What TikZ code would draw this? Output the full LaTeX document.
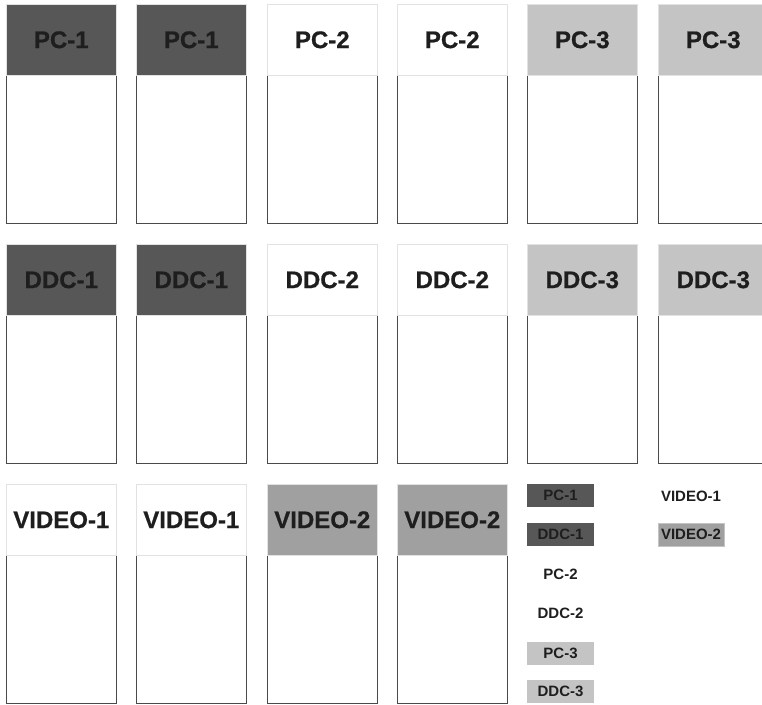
\documentclass[tikz,border=0pt]{standalone}
\usepackage{fontspec}
\setmainfont{Liberation Sans}
\newfontfamily\heavy{Liberation Sans}[UprightFont=*-Bold,FakeBold=0.7]
\definecolor{cdark}{HTML}{575757}
\definecolor{clight}{HTML}{C4C4C4}
\definecolor{cmid}{HTML}{A0A0A0}
\definecolor{ctext}{HTML}{1E1E1E}
\definecolor{cedge}{HTML}{4A4A4A}
\definecolor{cfaint}{HTML}{E2E2E2}
\tikzset{
  x=1pt,y=-1pt,
  hdr/.style={draw=cfaint,line width=0.6pt,minimum width=110pt,minimum height=71pt,inner sep=0pt,anchor=north west,
    font=\fontsize{24}{24}\selectfont\heavy,text=ctext},
  body/.style={draw=cedge,line width=0.9pt},
  leg/.style={minimum width=67pt,minimum height=23pt,inner sep=0pt,font=\fontsize{15}{15}\selectfont\bfseries,text=ctext},
}
\begin{document}
\begin{tikzpicture}
\useasboundingbox (0,0) rectangle (762,704);
\foreach \r/\ty/\la/\lb/\lc/\ca/\cb/\cc in {
  1/4/PC-1/PC-2/PC-3/cdark/white/clight,
  2/244/DDC-1/DDC-2/DDC-3/cdark/white/clight}{
  \foreach \c/\lx/\lab/\col in {1/6/\la/\ca,2/136/\la/\ca,3/267/\lb/\cb,4/397/\lb/\cb,5/527/\lc/\cc,6/658/\lc/\cc}{
    \draw[body] (\lx,\ty+71) -- (\lx,\ty+219) -- (\lx+110,\ty+219) -- (\lx+110,\ty+71);
    \node[hdr,fill=\col] (h\r\c) at (\lx,\ty) {\lab};
  }
}
\foreach \c/\lx/\lab/\col in {1/6/VIDEO-1/white,2/136/VIDEO-1/white,3/267/VIDEO-2/cmid,4/397/VIDEO-2/cmid}{
  \draw[body] (\lx,484+71) -- (\lx,484+219) -- (\lx+110,484+219) -- (\lx+110,484+71);
  \node[hdr,fill=\col] (h3\c) at (\lx,484) {\lab};
}
% legend
\node[leg,fill=cdark] (l1) at (560.5,495.5) {PC-1};
\node[leg,fill=cdark] (l2) at (560.5,534.5) {DDC-1};
\node[leg] (l3) at (560.5,574) {PC-2};
\node[leg] (l4) at (560.5,613) {DDC-2};
\node[leg,fill=clight] (l5) at (560.5,653) {PC-3};
\node[leg,fill=clight] (l6) at (560.5,691.5) {DDC-3};
\node[leg] (l7) at (691,496) {VIDEO-1};
\node[leg,fill=cmid,draw=clight,line width=0.6pt,minimum width=66pt] (l8) at (691,534.5) {VIDEO-2};
\end{tikzpicture}
\end{document}
